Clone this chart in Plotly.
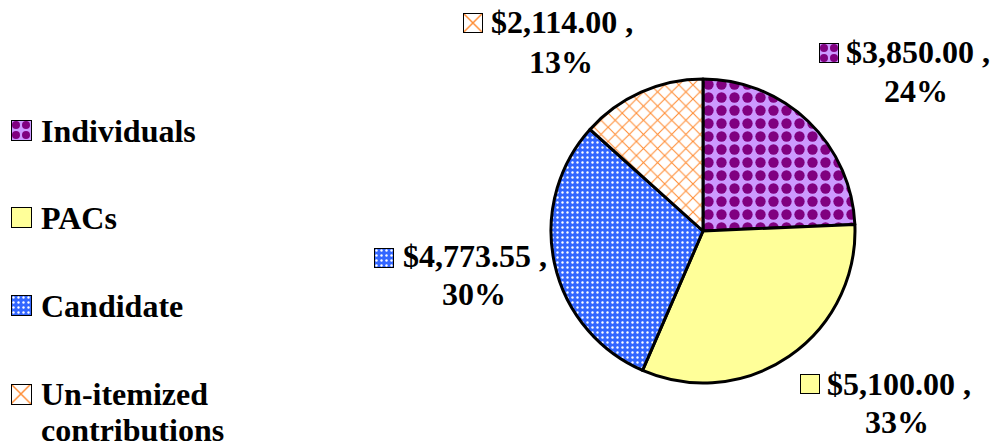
import plotly.graph_objects as go

# ---------------- data ----------------
categories = ["Individuals", "PACs", "Candidate", "Un-itemized contributions"]
amounts = [3850.00, 5100.00, 4773.55, 2114.00]
amount_labels = ["$3,850.00 ,", "$5,100.00 ,", "$4,773.55 ,", "$2,114.00 ,"]
percent_labels = ["24%", "33%", "30%", "13%"]
legend_lines = [["Individuals"], ["PACs"], ["Candidate"], ["Un-itemized", "contributions"]]

# ---------------- styles ----------------
W, H = 990, 447
FONT = "Liberation Serif"
FS = 32

bg_colors = ["#CC99FF", "#FFFF99", "#3366FF", "#FFFFFF"]
fg_colors = ["#800080", "#FFFF99", "#FFFFFF", "#FF8C33"]
shapes = [".", "", ".", "x"]
pie_sizes = [13, 8, 5, 10]
icon_sizes = [10, 8, 5, 14]
solidities = [0.5, 0.2, 0.18, 0.2]


def px(x):
    return x / W


def py(y):
    return 1 - y / H


# pie geometry (pixels)
cx, cy, r = 703, 231, 152

fig = go.Figure()
fig.add_trace(go.Pie(
    labels=categories,
    values=amounts,
    sort=False,
    direction="clockwise",
    rotation=0,
    textinfo="none",
    showlegend=False,
    marker=dict(
        colors=bg_colors,
        line=dict(color="black", width=3),
        pattern=dict(shape=shapes, fgcolor=fg_colors, bgcolor=bg_colors,
                     size=pie_sizes, solidity=solidities, fillmode="replace"),
    ),
    domain=dict(x=[px(cx - r), px(cx + r)], y=[py(cy + r), py(cy - r)]),
))

# icon boxes (pixels: x0, x1, ytop, ybottom)
legend_icons = [(11, 32, 120, 141), (11, 32, 207, 228), (11, 32, 295, 316), (11, 32, 384, 405)]
label_icons = [(819, 839, 43, 63), (800, 820, 374, 394), (374, 394, 248, 268), (463, 483, 13, 33)]

layout_axes = {}
n = 2
for i in range(len(categories)):
    for box in (legend_icons[i], label_icons[i]):
        x0, x1, yt, yb = box
        xa, ya = f"xaxis{n}", f"yaxis{n}"
        layout_axes[xa] = dict(domain=[px(x0), px(x1)], range=[-0.5, 0.5], visible=False,
                               fixedrange=True, anchor=f"y{n}")
        layout_axes[ya] = dict(domain=[py(yb), py(yt)], range=[0, 1], visible=False,
                               fixedrange=True, anchor=f"x{n}")
        fig.add_trace(go.Bar(
            x=[0], y=[1], width=[1], xaxis=f"x{n}", yaxis=f"y{n}",
            showlegend=False, hoverinfo="skip", cliponaxis=False,
            marker=dict(color=bg_colors[i], line=dict(color="black", width=2),
                        pattern=dict(shape=shapes[i], fgcolor=fg_colors[i],
                                     bgcolor=bg_colors[i], size=icon_sizes[i],
                                     solidity=solidities[i], fillmode="replace")),
        ))
        n += 1

annotations = []
font = dict(family=FONT, size=FS, color="black", weight="bold")
BASE_OFF = 10.8  # baseline -> visual middle offset


def add_text(text, x, baseline, anchor):
    annotations.append(dict(text=text, x=px(x), y=py(baseline - BASE_OFF), xref="paper",
                            yref="paper", xanchor=anchor, yanchor="middle",
                            borderpad=0, borderwidth=0,
                            showarrow=False, font=font))


# legend text
legend_baselines = [[142], [229], [317], [405, 441]]
for lines, bls in zip(legend_lines, legend_baselines):
    for t, b in zip(lines, bls):
        add_text(t, 41, b, "left")

# data labels: (line1 left x, line1 baseline, line2 center x, line2 baseline)
label_pos = [(846, 63, 916, 102), (827, 395, 897, 433), (403, 267, 474, 305), (491, 33, 561, 73)]
for i, (lx, lb, cx2, b2) in enumerate(label_pos):
    add_text(amount_labels[i], lx, lb, "left")
    add_text(percent_labels[i], cx2, b2, "center")

fig.update_layout(
    width=W, height=H,
    margin=dict(l=0, r=0, t=0, b=0),
    paper_bgcolor="white", plot_bgcolor="rgba(0,0,0,0)",
    showlegend=False,
    annotations=annotations,
    **layout_axes,
)

fig.write_html("out.html", config={"displayModeBar": False},
               post_script="document.body.style.margin='0';")
